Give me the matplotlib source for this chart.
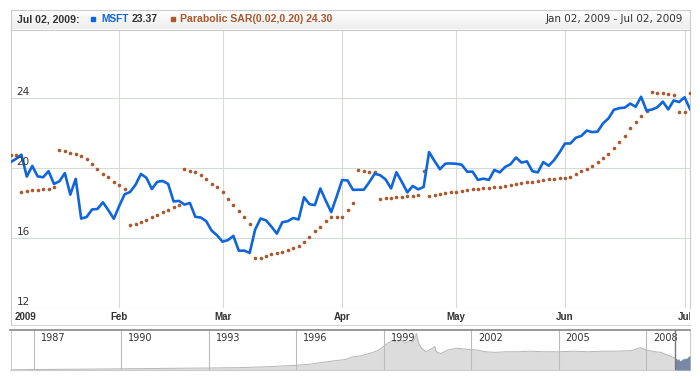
import matplotlib.pyplot as plt
import matplotlib.patches as mpatches
import numpy as np

# MSFT closes, Jan 02 - Jul 02 2009 (one value per trading day)
close = [20.33, 20.52, 20.76, 19.51, 20.12, 19.52, 19.47, 19.82, 19.09, 19.24,
         19.71, 18.48, 19.38, 17.11, 17.20, 17.63, 17.66, 18.04, 17.59, 17.10,
         17.83, 18.50, 18.63, 19.04, 19.66, 19.44, 18.80, 19.21, 19.26, 19.09,
         18.09, 18.12, 17.91, 18.00, 17.21, 17.17, 16.96, 16.42, 16.15, 15.79,
         15.88, 16.12, 15.27, 15.28, 15.15, 16.48, 17.11, 17.01, 16.65, 16.25,
         16.90, 16.96, 17.14, 17.06, 18.33, 17.93, 17.88, 18.83, 18.13, 17.48,
         18.37, 19.31, 19.29, 18.75, 18.76, 18.76, 19.19, 19.67, 19.59, 19.35,
         18.83, 19.76, 19.20, 18.61, 18.97, 18.78, 18.92, 20.91, 20.40, 19.93,
         20.25, 20.26, 20.24, 20.19, 19.79, 19.79, 19.32, 19.39, 19.32, 19.89,
         19.75, 20.06, 20.22, 20.60, 20.31, 20.38, 19.82, 19.75, 20.34, 20.13,
         20.45, 20.89, 21.40, 21.40, 21.73, 21.83, 22.14, 22.05, 22.08, 22.55,
         22.83, 23.33, 23.42, 23.45, 23.68, 23.50, 24.07, 23.28, 23.34, 23.47,
         23.79, 23.35, 23.86, 23.77, 24.04, 23.37]

# parabolic SAR dots
sar = [20.76, 20.72,
       18.63, 18.67, 18.72, 18.76, 18.80, 18.82, 18.90,
       21.01, 20.95, 20.86, 20.80, 20.70, 20.51, 20.23, 19.94, 19.68, 19.47, 19.20, 19.01, 18.82,
       16.72, 16.80, 16.91, 17.05, 17.18, 17.33, 17.49, 17.62, 17.75, 17.87,
       19.92, 19.85, 19.75, 19.60, 19.35, 19.09, 18.90, 18.61, 18.23, 17.89, 17.56, 17.18, 16.78,
       14.84, 14.88, 14.97, 15.07, 15.12, 15.22, 15.31, 15.41, 15.56, 15.75, 16.08, 16.40,
       16.65, 16.97, 17.22, 17.22, 17.22, 17.60, 18.02,
       19.89, 19.83, 19.79, 19.75,
       18.23, 18.27, 18.30, 18.32, 18.36, 18.40, 18.42, 18.46,
       19.83,
       18.42, 18.46, 18.51, 18.55, 18.61, 18.65, 18.69, 18.74, 18.78, 18.80, 18.84, 18.88,
       18.90, 18.93, 18.97, 19.03, 19.09,
       19.12, 19.18, 19.22, 19.28, 19.31, 19.35, 19.37, 19.41, 19.45, 19.50, 19.66, 19.83,
       19.94, 20.13, 20.36, 20.55, 20.80, 21.12, 21.47, 21.85, 22.30, 22.65, 22.97, 23.26,
       24.32, 24.30, 24.27, 24.23, 24.19,
       23.18, 23.18,
       24.30]

month_labels = ['2009', 'Feb', 'Mar', 'Apr', 'May', 'Jun', 'Jul']
month_idx = [0, 20, 39, 61, 82, 102, 124]
y_ticks = [12, 16, 20, 24]

# long history shown in the scroller
hist_year = [1986.2, 1987.0, 1988.0, 1989.0, 1990.0, 1991.0, 1992.0, 1993.0, 1994.0, 1995.0,
             1996.0, 1996.5, 1996.8, 1997.2, 1997.7, 1997.9, 1998.2, 1998.5, 1998.8, 1999.0,
             1999.15, 1999.3, 1999.45, 1999.6, 1999.75, 1999.9, 2000.0, 2000.05, 2000.12, 2000.2,
             2000.3, 2000.45, 2000.6, 2000.75, 2000.8, 2000.95, 2001.2, 2001.5, 2001.9, 2002.2,
             2002.5, 2002.8, 2003.2, 2003.6, 2004.0, 2004.5, 2005.0, 2005.5, 2006.0, 2006.5,
             2007.0, 2007.5, 2007.8, 2008.0, 2008.3, 2008.5, 2008.75, 2009.0]
hist_price = [0.3, 0.8, 1.2, 1.5, 2.0, 2.5, 3.0, 3.4, 4.0, 5.5,
              8, 10, 12.4, 15, 18, 22, 24, 28, 33, 40,
              46, 50, 47, 51, 46, 50, 48, 52, 62, 45,
              37, 31, 35, 40, 31, 28, 34, 37, 35, 34,
              31, 30, 31, 31, 32, 31, 31, 32, 31, 32,
              32, 33, 38, 34, 31, 30, 25, 20]
scroll_years = [1987, 1990, 1993, 1996, 1999, 2002, 2005, 2008]

W, H = 700, 380
fig = plt.figure(figsize=(7, 3.8), dpi=100)

def px_axes(x0, y0, x1, y1):
    return fig.add_axes([x0 / W, 1 - y1 / H, (x1 - x0) / W, (y1 - y0) / H])

blue = '#0F65DB'
brown = '#A9592D'
grid = '#D5DBD5'
txt = '#333333'
bold_font = 'Liberation Sans'

# header
hdr = px_axes(10.5, 10, 690, 29.5)
hdr.imshow(np.linspace(1.0, 0.93, 20).reshape(-1, 1), cmap='gray', vmin=0, vmax=1,
           aspect='auto', extent=[0, 1, 0, 1])
hdr.set_xticks([])
hdr.set_yticks([])
for s in hdr.spines.values():
    s.set_color('#CCCCCC')

def htext(x, s, color, weight='bold', family=bold_font, ha='left', size=7.6):
    fig.text(x / W, 1 - 19.5 / H, s, color=color, fontsize=size, fontweight=weight,
             family=family, ha=ha, va='center')

htext(17, 'Jul 02, 2009:', txt)
fig.patches.append(mpatches.Rectangle((90.7 / W, 1 - 21.2 / H), 4.4 / W, 4.4 / H,
                                      transform=fig.transFigure, color=blue))
htext(101.5, 'MSFT', blue, size=7.3)
htext(132, '%.2f' % close[-1], txt)
fig.patches.append(mpatches.Rectangle((170.7 / W, 1 - 21.2 / H), 4.4 / W, 4.4 / H,
                                      transform=fig.transFigure, color=brown))
htext(180, 'Parabolic SAR(0.02,0.20) %.2f' % sar[-1], brown)
htext(683, 'Jan 02, 2009 - Jul 02, 2009', txt, weight='normal', family='DejaVu Sans',
      ha='right', size=7.5)

# main plot
ax = px_axes(10.5, 29.5, 690, 308)
ax.set_xlim(0, len(close) - 1)
ax.set_ylim(12, 12 + 278.5 / 17.5)
ax.set_xticks([])
ax.set_yticks([])
for s in ax.spines.values():
    s.set_color('#CCCCCC')
for v in y_ticks[1:]:
    ax.axhline(v, color=grid, lw=0.8, zorder=1)
for i in month_idx[1:]:
    ax.axvline(i, color=grid, lw=0.8, zorder=1)
for v in y_ticks:
    ax.annotate(str(v), xy=(0, v), xycoords=('axes fraction', 'data'), xytext=(4.3, 0.5),
                textcoords='offset points', ha='left', va='bottom', fontsize=7.5,
                color=txt, zorder=5)
ax.plot(range(len(sar)), sar, 'o', ms=2.6, mew=0, color=brown, zorder=3)
ax.plot(range(len(close)), close, color=blue, lw=1.9, zorder=4)

# date label band
band = px_axes(10.5, 308, 690, 325)
band.set_xlim(ax.get_xlim())
band.set_ylim(0, 1)
band.set_xticks([])
band.set_yticks([])
band.spines['top'].set_visible(False)
band.spines['right'].set_visible(False)
band.spines['bottom'].set_color('#D5D5D5')
band.spines['left'].set_color('#CCCCCC')
band.annotate(month_labels[0], xy=(0, 0.5), xytext=(3, 0), textcoords='offset points',
              ha='left', va='center', fontsize=7, fontweight='bold', family=bold_font, color=txt)
for lab, i in zip(month_labels[1:], month_idx[1:]):
    band.text(i, 0.5, lab, ha='center', va='center', fontsize=7, fontweight='bold',
              family=bold_font, color=txt, clip_on=True)

# scroller
sc = px_axes(10.5, 330, 690, 370)
sc.set_xlim(1986.2, 2009.5)
sc.set_ylim(0, 68)
sc.set_xticks([])
sc.set_yticks([])
sc.spines['top'].set_color('#888888')
sc.spines['top'].set_linewidth(1.2)
for k in ['left', 'right', 'bottom']:
    sc.spines[k].set_color('#CCCCCC')
sc.fill_between(hist_year, hist_price, color='#DCDCDC', lw=0)
sc.plot(hist_year, hist_price, color='#B5B5B5', lw=0.7)
for yr in scroll_years:
    sc.axvline(yr, color='#BBBBBB', lw=0.8)
    sc.annotate(str(yr), xy=(yr, 1), xycoords=('data', 'axes fraction'), xytext=(5, -2),
                textcoords='offset points', ha='left', va='top', fontsize=7, color=txt)
sel_x = 2009 + np.arange(len(close)) / (len(close) - 1) * 0.5
sc.axvspan(2009, 2009.5, color='white', zorder=2)
sc.fill_between(sel_x, close, color='#7A87A6', lw=0, zorder=3)
sc.axvline(2009, color='#777777', lw=1, zorder=4)

fig.savefig('out.png', dpi=100)
